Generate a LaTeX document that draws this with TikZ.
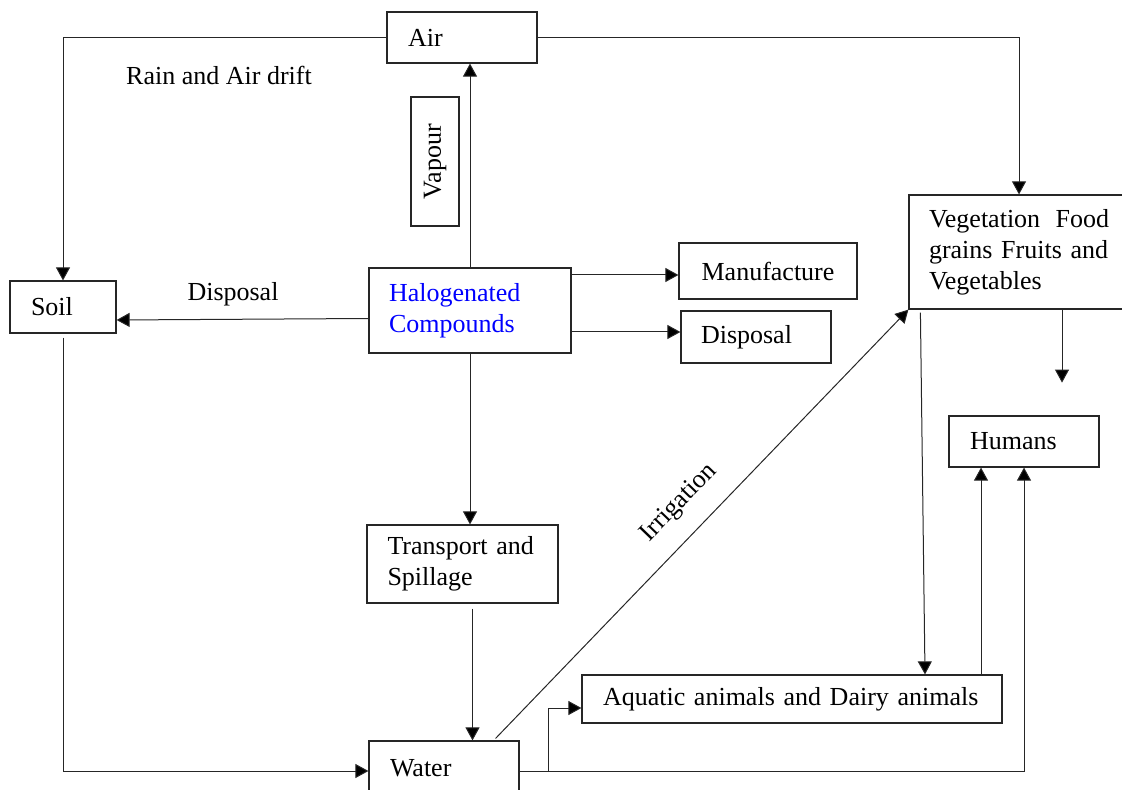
\documentclass[tikz,border=0pt]{standalone}
\usepackage{fontspec}
\setmainfont{Liberation Serif}
\usetikzlibrary{arrows.meta,calc}
\definecolor{hblue}{RGB}{0,0,255}
\begin{document}
\begin{tikzpicture}[x=0.5pt,y=-0.5pt,
  font=\fontsize{13}{15.5}\selectfont,
  box/.style={draw=black!85, line width=0.6pt, inner sep=0pt, align=left},
  arr/.style={draw=black!85, line width=0.5pt, -{Triangle[length=6.5pt,width=7pt,fill=black]}},
  lbl/.style={inner sep=0pt}]
\useasboundingbox (0,0) rectangle (1122,790);
% boxes
\node[box, minimum width=75pt, minimum height=25.5pt, text width=54pt] (air) at (462,37.5) {\mbox{Air}};
\node[box, rotate=90, minimum width=64.5pt, minimum height=24pt, align=center] (vap) at (435,161.5) {Vapour};
\node[box, minimum width=101pt, minimum height=42.5pt, text width=81pt, text=hblue] (hal) at (470,310.5) {\mbox{Halogenated}\\\mbox{Compounds}};
\node[box, minimum width=89pt, minimum height=28pt, align=center] (manu) at (768,271) {Manufacture};
\node[box, minimum width=75pt, minimum height=26pt, text width=55pt] (disp) at (756,337) {\mbox{Disposal}};
\node[box, minimum width=53pt, minimum height=26pt, text width=32pt] (soil) at (63,307) {\mbox{Soil}};
\node[box, minimum width=110pt, minimum height=57pt, text width=90pt] (veg) at (1019,252) {\makebox[90pt][s]{Vegetation\hfill Food}\\\mbox{grains Fruits and}\\\mbox{Vegetables}};
\node[box, minimum width=75pt, minimum height=25.5pt, text width=54pt] (hum) at (1024,441.5) {\mbox{Humans}};
\node[box, minimum width=95.5pt, minimum height=39pt, text width=75pt] (trans) at (462.5,564) {\mbox{Transport and}\\\mbox{Spillage}};
\node[box, minimum width=75pt, minimum height=27pt, text width=54pt] (water) at (444,768) {\mbox{Water}};
\node[box, minimum width=210pt, minimum height=24pt, text width=189pt] (aq) at (792,699) {\mbox{Aquatic animals and Dairy animals}};
% labels
\node[lbl] (rain) at (219,75) {Rain and Air drift};
\node[lbl] (displ) at (233,294) {Disposal};
\node[lbl, rotate=46] (irr) at (679,503) {Irrigation};
% helper coordinates
\coordinate (m1) at ([yshift=-2pt]manu.west);
\coordinate (m2) at ([yshift=2.5pt]disp.west);
\coordinate (t1) at ([xshift=5pt,yshift=-2.5pt]trans.south);
\coordinate (w1) at ([yshift=-1.5pt]water.west);
\coordinate (w2) at ([yshift=-1.5pt]water.east);
\coordinate (b1) at ([xshift=14.5pt,yshift=-1.5pt]water.east);
\coordinate (a1) at ([yshift=-4.5pt]aq.west);
\coordinate (i1) at ([xshift=-12pt,yshift=1pt]water.north east);
\coordinate (v1) at ([xshift=6pt,yshift=-1.5pt]veg.south west);
\coordinate (a2) at ([xshift=66.5pt]aq.north);
\coordinate (a3) at ([xshift=94.5pt]aq.north);
\coordinate (v2) at ([xshift=21.5pt]veg.south);
\coordinate (v3) at ([xshift=21.5pt,yshift=-36.5pt]veg.south);
% connectors
\draw[arr] (air.west) -| (soil.north);
\draw[arr] (air.east) -| (veg.north);
\draw[arr] (hal.north) -- (hal.north |- air.south);
\draw[arr] ([yshift=-4pt]hal.west) -- ([yshift=-6.5pt]soil.east);
\draw[arr] (hal.east |- m1) -- (m1);
\draw[arr] (hal.east |- m2) -- (m2);
\draw[arr] (hal.south) -- (hal.south |- trans.north);
\draw[arr] (t1) -- (t1 |- water.north);
\draw[arr] ([yshift=-2pt]soil.south) -- (soil.south |- w1) -- (w1);
\draw[arr] (i1) -- (veg.south west);
\draw[arr] (w2) -- (w2 -| hum.south) -- (hum.south);
\draw[arr] (b1) -- (b1 |- a1) -- (a1);
\draw[arr] (v1) -- (a2);
\draw[arr] (a3) -- (a3 |- hum.south);
\draw[arr] (v2) -- (v3);
\end{tikzpicture}
\end{document}
